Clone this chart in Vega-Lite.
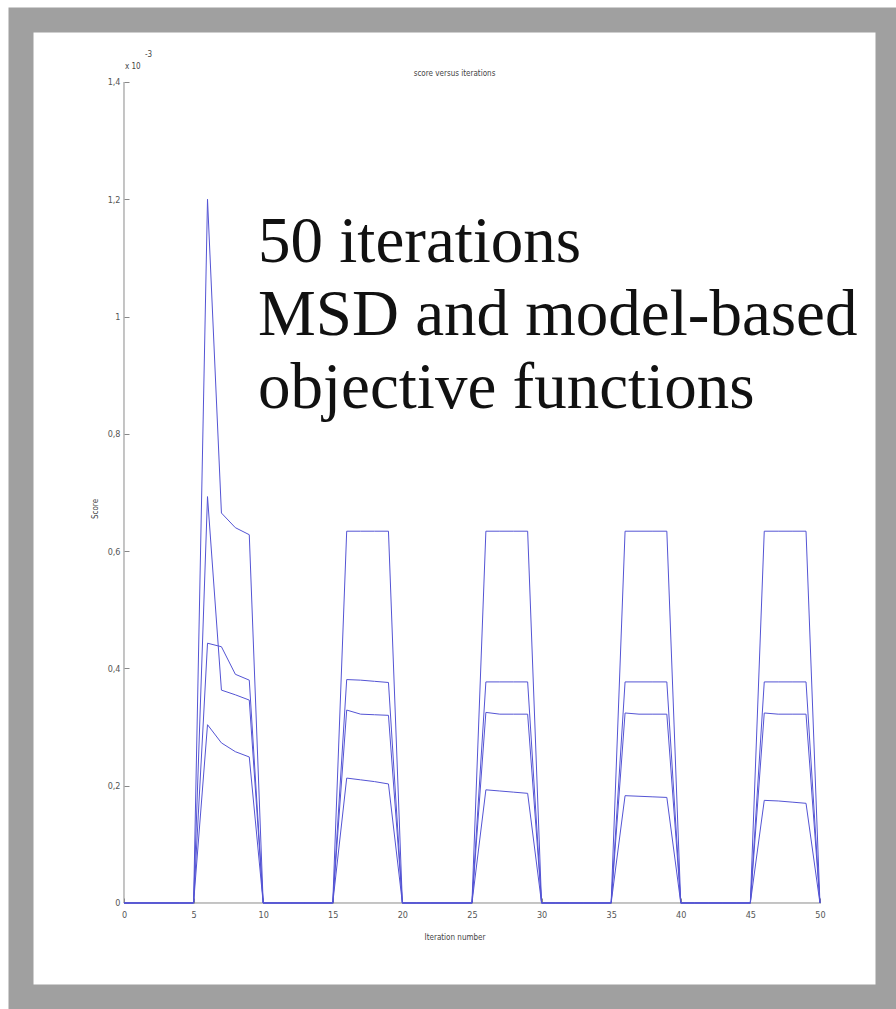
{
  "$schema": "https://vega.github.io/schema/vega-lite/v6.json",
  "width": 867,
  "height": 977,
  "autosize": {"type": "none"},
  "padding": {"left": 21, "top": 20, "right": 8, "bottom": 12},
  "background": "white",
  "config": {
    "view": {"fill": "white", "stroke": "#a0a0a0", "strokeWidth": 25},
    "font": "Liberation Sans"
  },
  "title": {
    "text": "score versus iterations",
    "fontSize": 8,
    "fontWeight": "normal",
    "color": "#444444",
    "font": "DejaVu Sans Condensed",
    "offset": -58
  },
  "layer": [
    {
      "data": {"values": [{}]},
      "mark": {"type": "rule", "color": "#8a8a8a", "strokeWidth": 1},
      "encoding": {
        "x": {"datum": 0, "type": "quantitative"},
        "y": {"datum": 0, "type": "quantitative"},
        "y2": {"datum": 1.4}
      }
    },
    {
      "data": {"values": [{}]},
      "mark": {"type": "rule", "color": "#8a8a8a", "strokeWidth": 1},
      "encoding": {
        "x": {"datum": 0, "type": "quantitative"},
        "x2": {"datum": 50},
        "y": {"datum": 0, "type": "quantitative"}
      }
    },
    {
      "data": {
        "values": [
          {"it": 0, "A": 0, "B": 0, "C": 0, "D": 0},
          {"it": 1, "A": 0, "B": 0, "C": 0, "D": 0},
          {"it": 2, "A": 0, "B": 0, "C": 0, "D": 0},
          {"it": 3, "A": 0, "B": 0, "C": 0, "D": 0},
          {"it": 4, "A": 0, "B": 0, "C": 0, "D": 0},
          {"it": 5, "A": 0, "B": 0, "C": 0, "D": 0},
          {"it": 6, "A": 1.2, "B": 0.693, "C": 0.443, "D": 0.304},
          {"it": 7, "A": 0.665, "B": 0.363, "C": 0.437, "D": 0.273},
          {"it": 8, "A": 0.64, "B": 0.355, "C": 0.39, "D": 0.258},
          {"it": 9, "A": 0.628, "B": 0.346, "C": 0.38, "D": 0.249},
          {"it": 10, "A": 0, "B": 0, "C": 0, "D": 0},
          {"it": 11, "A": 0, "B": 0, "C": 0, "D": 0},
          {"it": 12, "A": 0, "B": 0, "C": 0, "D": 0},
          {"it": 13, "A": 0, "B": 0, "C": 0, "D": 0},
          {"it": 14, "A": 0, "B": 0, "C": 0, "D": 0},
          {"it": 15, "A": 0, "B": 0, "C": 0, "D": 0},
          {"it": 16, "A": 0.634, "B": 0.329, "C": 0.381, "D": 0.213},
          {"it": 17, "A": 0.634, "B": 0.322, "C": 0.38, "D": 0.21},
          {"it": 18, "A": 0.634, "B": 0.321, "C": 0.378, "D": 0.207},
          {"it": 19, "A": 0.634, "B": 0.32, "C": 0.376, "D": 0.203},
          {"it": 20, "A": 0, "B": 0, "C": 0, "D": 0},
          {"it": 21, "A": 0, "B": 0, "C": 0, "D": 0},
          {"it": 22, "A": 0, "B": 0, "C": 0, "D": 0},
          {"it": 23, "A": 0, "B": 0, "C": 0, "D": 0},
          {"it": 24, "A": 0, "B": 0, "C": 0, "D": 0},
          {"it": 25, "A": 0, "B": 0, "C": 0, "D": 0},
          {"it": 26, "A": 0.634, "B": 0.325, "C": 0.377, "D": 0.193},
          {"it": 27, "A": 0.634, "B": 0.322, "C": 0.377, "D": 0.191},
          {"it": 28, "A": 0.634, "B": 0.322, "C": 0.377, "D": 0.189},
          {"it": 29, "A": 0.634, "B": 0.322, "C": 0.377, "D": 0.187},
          {"it": 30, "A": 0, "B": 0, "C": 0, "D": 0},
          {"it": 31, "A": 0, "B": 0, "C": 0, "D": 0},
          {"it": 32, "A": 0, "B": 0, "C": 0, "D": 0},
          {"it": 33, "A": 0, "B": 0, "C": 0, "D": 0},
          {"it": 34, "A": 0, "B": 0, "C": 0, "D": 0},
          {"it": 35, "A": 0, "B": 0, "C": 0, "D": 0},
          {"it": 36, "A": 0.634, "B": 0.324, "C": 0.377, "D": 0.183},
          {"it": 37, "A": 0.634, "B": 0.322, "C": 0.377, "D": 0.182},
          {"it": 38, "A": 0.634, "B": 0.322, "C": 0.377, "D": 0.181},
          {"it": 39, "A": 0.634, "B": 0.322, "C": 0.377, "D": 0.18},
          {"it": 40, "A": 0, "B": 0, "C": 0, "D": 0},
          {"it": 41, "A": 0, "B": 0, "C": 0, "D": 0},
          {"it": 42, "A": 0, "B": 0, "C": 0, "D": 0},
          {"it": 43, "A": 0, "B": 0, "C": 0, "D": 0},
          {"it": 44, "A": 0, "B": 0, "C": 0, "D": 0},
          {"it": 45, "A": 0, "B": 0, "C": 0, "D": 0},
          {"it": 46, "A": 0.634, "B": 0.324, "C": 0.377, "D": 0.175},
          {"it": 47, "A": 0.634, "B": 0.322, "C": 0.377, "D": 0.174},
          {"it": 48, "A": 0.634, "B": 0.322, "C": 0.377, "D": 0.172},
          {"it": 49, "A": 0.634, "B": 0.322, "C": 0.377, "D": 0.17},
          {"it": 50, "A": 0, "B": 0, "C": 0, "D": 0}
        ]
      },
      "transform": [{"fold": ["A", "B", "C", "D"], "as": ["series", "score"]}],
      "mark": {"type": "line", "color": "#5454d4", "strokeWidth": 1},
      "encoding": {
        "x": {
          "field": "it",
          "type": "quantitative",
          "scale": {"domain": [-7.4, 54.89], "nice": false, "zero": false},
          "axis": {
            "values": [0, 5, 10, 15, 20, 25, 30, 35, 40, 45, 50],
            "offset": -94,
            "domain": false,
            "grid": false,
            "tickSize": -5,
            "tickColor": "#888888",
            "labelPadding": 12,
            "labelFontSize": 9,
            "labelColor": "#555555",
            "labelFont": "DejaVu Sans Condensed",
            "title": "Iteration number",
            "titleFontSize": 8,
            "titleFontWeight": "normal",
            "titleColor": "#444444",
            "titleFont": "DejaVu Sans Condensed",
            "titlePadding": 14
          }
        },
        "y": {
          "field": "score",
          "type": "quantitative",
          "scale": {"domain": [-0.1603, 1.5057], "nice": false, "zero": false},
          "axis": {
            "values": [0, 0.2, 0.4, 0.6, 0.8, 1, 1.2, 1.4],
            "labelExpr": "replace(toString(datum.value), '.', ',')",
            "offset": -103,
            "domain": false,
            "grid": false,
            "tickSize": -5,
            "tickColor": "#888888",
            "labelPadding": 9,
            "labelFontSize": 9,
            "labelColor": "#555555",
            "labelFont": "DejaVu Sans Condensed",
            "title": "Score",
            "titleFontSize": 8,
            "titleFontWeight": "normal",
            "titleColor": "#444444",
            "titleFont": "DejaVu Sans Condensed",
            "titlePadding": 8
          }
        },
        "detail": {"field": "series", "type": "nominal"}
      }
    },
    {
      "data": {"values": [{}]},
      "mark": {"type": "text", "text": "x 10", "align": "left", "baseline": "middle", "fontSize": 8, "color": "#444444", "font": "DejaVu Sans Condensed", "dx": 1, "dy": -15},
      "encoding": {
        "x": {"datum": 0, "type": "quantitative"},
        "y": {"datum": 1.4, "type": "quantitative"}
      }
    },
    {
      "data": {"values": [{}]},
      "mark": {"type": "text", "text": "-3", "align": "left", "baseline": "middle", "fontSize": 8, "color": "#444444", "font": "DejaVu Sans Condensed", "dx": 21, "dy": -27},
      "encoding": {
        "x": {"datum": 0, "type": "quantitative"},
        "y": {"datum": 1.4, "type": "quantitative"}
      }
    },
    {
      "data": {"values": [{}]},
      "mark": {
        "type": "text",
        "text": ["50 iterations", "MSD and model-based", "objective functions"],
        "align": "left",
        "baseline": "alphabetic",
        "lineHeight": 73,
        "font": "Liberation Serif",
        "fontSize": 65,
        "color": "#111111"
      },
      "encoding": {
        "x": {"datum": 9.63, "type": "quantitative"},
        "y": {"datum": 1.093, "type": "quantitative"}
      }
    }
  ]
}
